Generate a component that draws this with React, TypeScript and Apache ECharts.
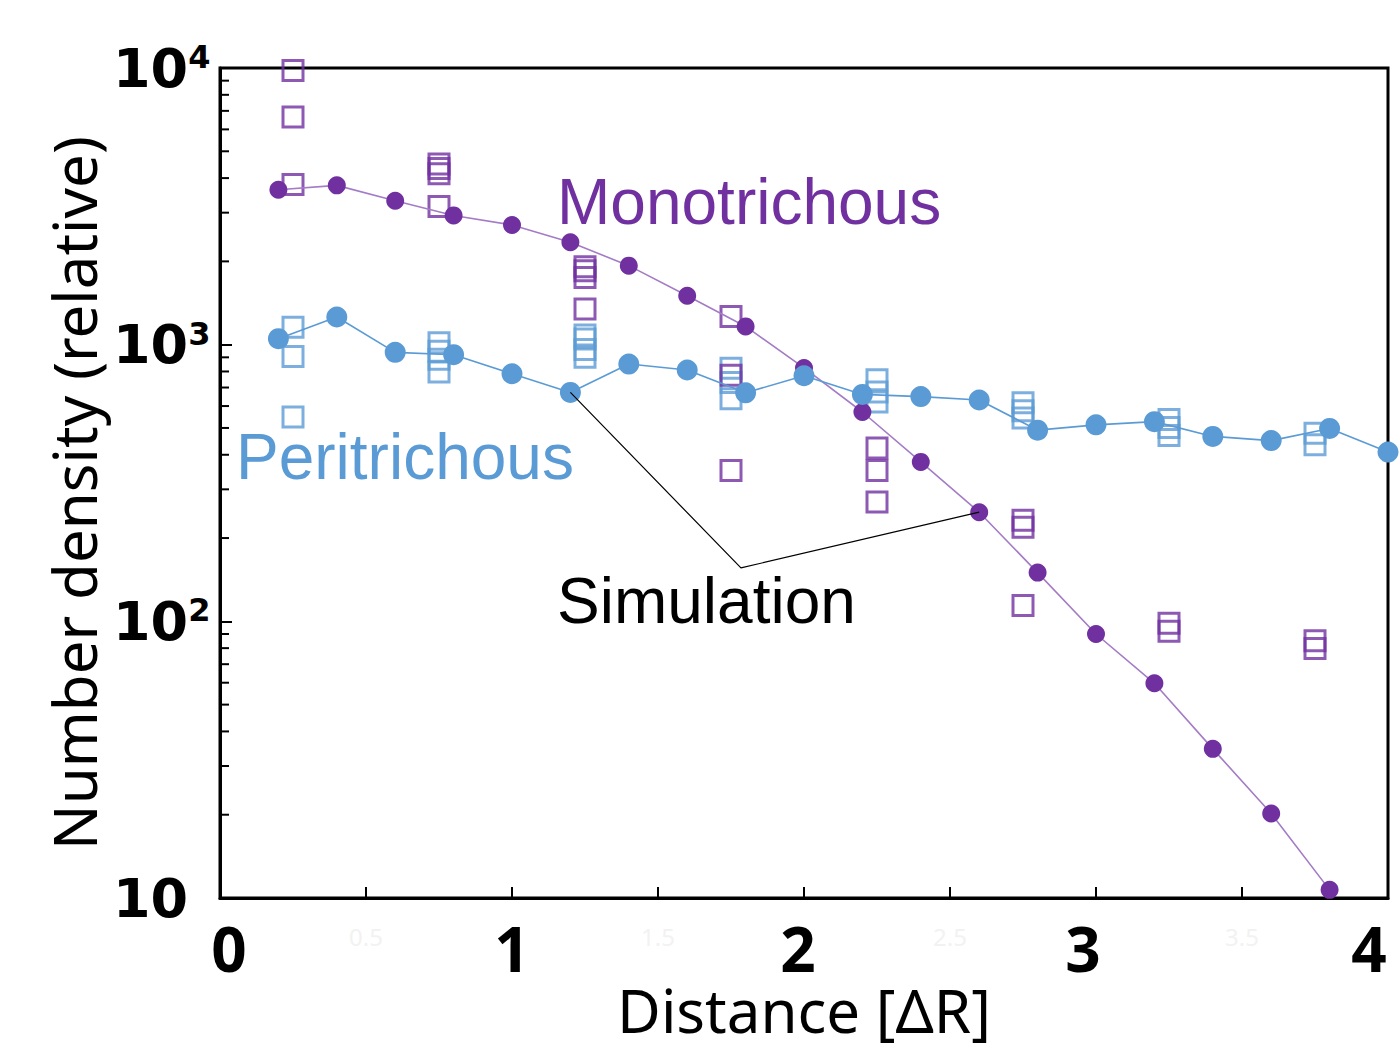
import React, { useEffect, useRef } from 'react';
import * as echarts from 'echarts';

// Simulation (x in ΔR)
const simX = [0.2, 0.4, 0.6, 0.8, 1.0, 1.2, 1.4, 1.6, 1.8, 2.0, 2.2, 2.4, 2.6, 2.8, 3.0, 3.2, 3.4, 3.6, 3.8, 4.0];
const monoSim = [3630, 3765, 3313, 2932, 2707, 2344, 1930, 1503, 1164, 824, 571, 377, 248, 150, 90, 59.7, 34.6, 20.2, 10.7];
const periSim = [1051, 1259, 938, 920, 785, 672, 851, 810, 670, 772, 661, 649, 631, 491, 513, 527, 466, 450, 498, 409];

// Experiment (open squares), grouped by x position
const expX = [0.25, 0.75, 1.25, 1.75, 2.25, 2.75, 3.25, 3.75];
const monoExp = [
  [9800, 6650, 3790],
  [4500, 4330, 4150, 3160],
  [1913, 1850, 1750, 1347],
  [1265, 776, 351],
  [423, 351, 270],
  [232, 219, 114],
  [98.5, 92],
  [85, 79.7],
];
const periExp = [
  [1157, 907, 548],
  [1016, 946, 885, 796],
  [1084, 1049, 960, 901],
  [821, 730, 638],
  [747, 675, 620],
  [617, 577, 543],
  [536, 502, 470],
  [478, 435],
];

// Log-axis minor ticks (inside the 10 – 10^4 range)
const yMinorTicks = [20, 30, 40, 50, 60, 70, 80, 90, 200, 300, 400, 500, 600, 700, 800, 900, 2000, 3000, 4000, 5000, 6000, 7000, 8000, 9000];

// Callout line for "Simulation"
const calloutPoints = [[1.2, 672], [1.784, 156], [2.6, 248]];

const PURPLE = '#7030A0';
const BLUE = '#5B9BD5';

export default function App() {
  const ref = useRef<HTMLDivElement>(null);
  useEffect(() => {
    document.body.style.margin = '0';
    const chart = echarts.init(ref.current!, null, { renderer: 'svg' });
    const pairs = (xs: number[], groups: number[][]) =>
      groups.flatMap((g, i) => g.map((v) => [xs[i], v]));
    const digit = { fontFamily: 'Noto Sans', fontWeight: 'bold', fontSize: 62, lineHeight: 36, color: '#000' };
    chart.setOption({
      animation: false,
      backgroundColor: '#ffffff',
      grid: {
        left: 220, top: 68, right: 11, bottom: 147, show: true, borderColor: '#000', borderWidth: 3,
        backgroundColor: 'transparent', containLabel: false, outerBoundsMode: 'none',
      },
      xAxis: {
        type: 'value', min: 0, max: 4, interval: 0.5,
        axisLine: { show: true, onZero: false, lineStyle: { color: '#000', width: 3 } },
        axisTick: { show: true, inside: true, length: 11, lineStyle: { color: '#000', width: 2 } },
        splitLine: { show: false },
        axisLabel: {
          margin: 32,
          formatter: (v: number) => {
            if (Math.abs(v - Math.round(v)) < 1e-9) return `{d${Math.round(v)}|${Math.round(v)}}`;
            return `{s|${v}}`;
          },
          rich: {
            d0: { ...digit, padding: [0, 0, 0, 18] },
            d1: { ...digit },
            d2: { ...digit, padding: [0, 12, 0, 0] },
            d3: { ...digit, padding: [0, 26, 0, 0] },
            d4: { ...digit, padding: [0, 38, 0, 0] },
            s: { fontFamily: 'Noto Sans', fontSize: 24, lineHeight: 28, color: '#f2f2f2', padding: [0, 0, 16, 0] },
          },
        },
        name: 'Distance [ΔR]', nameLocation: 'middle', nameGap: 82, nameMoveOverlap: false,
        nameTextStyle: { fontFamily: 'Noto Sans', fontSize: 60, color: '#000' },
      },
      yAxis: {
        type: 'log', logBase: 10, min: 10, max: 10000,
        axisLine: { show: true, onZero: false, lineStyle: { color: '#000', width: 3 } },
        axisTick: { show: true, inside: true, length: 12, lineStyle: { color: '#000', width: 2 } },
        minorTick: { show: false },
        splitLine: { show: false },
        axisLabel: {
          margin: 107, align: 'left',
          formatter: (v: number) => {
            const e = Math.round(Math.log10(v));
            return e === 1 ? '{b|10}' : `{b|10}{p|${e}}`;
          },
          rich: {
            b: { fontFamily: 'DejaVu Sans', fontWeight: 'bold', fontSize: 54, color: '#000' },
            p: { fontFamily: 'DejaVu Sans', fontWeight: 'bold', fontSize: 32, color: '#000', verticalAlign: 'top' },
          },
        },
        name: 'Number density (relative)', nameLocation: 'middle', nameGap: 116, nameMoveOverlap: false,
        nameTextStyle: { fontFamily: 'Noto Sans', fontSize: 60, color: '#000', padding: [0, 20, 0, 0] },
      },
      series: [
        {
          type: 'custom', silent: true, z: 1, clip: false,
          data: yMinorTicks.map((v) => [0, v]),
          renderItem: (params: any, api: any) => {
            const p = api.coord([0, api.value(1)]);
            return { type: 'line', shape: { x1: p[0], y1: p[1], x2: p[0] + 9, y2: p[1] }, style: { stroke: '#000', lineWidth: 2 } };
          },
        },
        {
          name: 'Peritrichous experiment', type: 'scatter', symbol: 'rect', symbolSize: 20, z: 2,
          data: pairs(expX, periExp),
          itemStyle: { color: 'transparent', borderColor: BLUE, borderWidth: 3 },
        },
        {
          name: 'Monotrichous experiment', type: 'scatter', symbol: 'rect', symbolSize: 20, z: 3,
          data: pairs(expX, monoExp),
          itemStyle: { color: 'transparent', borderColor: PURPLE, borderWidth: 3 },
        },
        {
          name: 'Monotrichous simulation', type: 'line', z: 4,
          data: monoSim.map((v, i) => [simX[i], v]),
          symbol: 'circle', symbolSize: 18, showSymbol: true,
          itemStyle: { color: PURPLE },
          lineStyle: { color: '#a47cc6', width: 1.6 },
        },
        {
          name: 'Peritrichous simulation', type: 'line', z: 5,
          data: periSim.map((v, i) => [simX[i], v]),
          symbol: 'circle', symbolSize: 21, showSymbol: true,
          itemStyle: { color: BLUE },
          lineStyle: { color: BLUE, width: 1.6 },
        },
        {
          name: 'callout', type: 'line', z: 6, silent: true,
          data: calloutPoints, symbol: 'none',
          lineStyle: { color: '#000', width: 1.2 },
        },
      ],
      graphic: [
        { type: 'text', x: 557, y: 202, style: { text: 'Monotrichous', fill: PURPLE, fontFamily: 'Liberation Sans', fontSize: 64, verticalAlign: 'middle' } },
        { type: 'text', x: 236, y: 457, style: { text: 'Peritrichous', fill: BLUE, fontFamily: 'Liberation Sans', fontSize: 64, verticalAlign: 'middle' } },
        { type: 'text', x: 557, y: 601, style: { text: 'Simulation', fill: '#000', fontFamily: 'Liberation Sans', fontSize: 64, verticalAlign: 'middle' } },
      ],
    });
    return () => chart.dispose();
  }, []);
  return <div ref={ref} style={{ position: 'absolute', left: 0, top: 0, width: 1399, height: 1045 }} />;
}
